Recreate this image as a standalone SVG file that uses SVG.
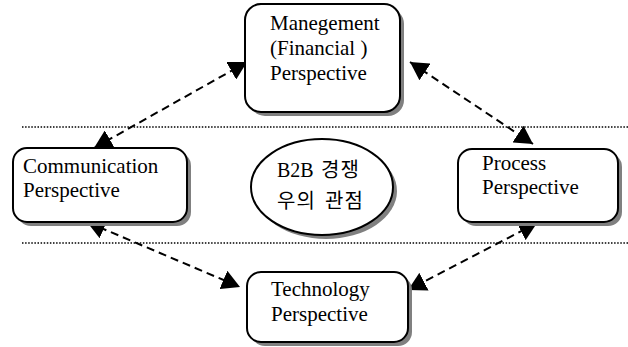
<svg xmlns="http://www.w3.org/2000/svg" width="628" height="347" viewBox="0 0 628 347">
  <style>
    .shadow { fill: #808080; stroke: none; }
    .box { fill: #ffffff; stroke: #000000; stroke-width: 2; }
    .label { font-family: "Liberation Serif", "Times New Roman", serif; font-size: 21px; fill: #000000; }
    .kor { font-family: "Liberation Serif", "Noto Sans CJK KR", serif; font-size: 20px; fill: #000000; }
    .divider { stroke: #000000; stroke-width: 1.5; stroke-dasharray: 1.5 1.6; fill: none; }
    .link { stroke: #000000; stroke-width: 2; stroke-dasharray: 8 5; fill: none;
            marker-start: url(#head); marker-end: url(#head); }
  </style>
  <defs>
    <marker id="head" markerUnits="userSpaceOnUse" markerWidth="18" markerHeight="20"
            viewBox="0 0 18 20" refX="18" refY="10" orient="auto-start-reverse">
      <path d="M0,0 L18,10 L0,20 Z" fill="#000000"/>
    </marker>
  </defs>

  <rect width="628" height="347" fill="#ffffff"/>

  <!-- dotted separators -->
  <g id="dividers">
    <line class="divider" x1="22" y1="127" x2="628" y2="127"/>
    <line class="divider" x1="22" y1="243" x2="628" y2="243"/>
  </g>

  <!-- double-headed dashed connectors -->
  <g id="connectors">
    <line class="link" x1="94" y1="148" x2="247" y2="62"/>
    <line class="link" x1="410" y1="62" x2="533" y2="144"/>
    <line class="link" x1="87" y1="222" x2="240" y2="287"/>
    <line class="link" x1="537" y1="223" x2="408" y2="290"/>
  </g>

  <g id="management">
    <rect class="shadow" x="249" y="8" width="155" height="108" rx="16"/>
    <rect class="box" x="245" y="4" width="155" height="108" rx="16"/>
    <text class="label" x="270" y="30">Manegement</text>
    <text class="label" x="270" y="55">(Financial )</text>
    <text class="label" x="270" y="80">Perspective</text>
  </g>

  <g id="communication">
    <rect class="shadow" x="17" y="152" width="174" height="74" rx="14"/>
    <rect class="box" x="13" y="148" width="174" height="74" rx="14"/>
    <text class="label" x="23" y="173">Communication</text>
    <text class="label" x="23" y="197">Perspective</text>
  </g>

  <g id="center">
    <ellipse class="shadow" cx="326" cy="191" rx="71" ry="48"/>
    <ellipse class="box" cx="322" cy="187" rx="71" ry="48"/>
    <text class="kor" x="277" y="177">B2B<tspan x="321" letter-spacing="1">경쟁</tspan></text>
    <text class="kor" x="277" y="208" letter-spacing="1">우의<tspan x="325">관점</tspan></text>
  </g>

  <g id="process">
    <rect class="shadow" x="462" y="153" width="160" height="73" rx="14"/>
    <rect class="box" x="458" y="149" width="160" height="73" rx="14"/>
    <text class="label" x="482" y="170">Process</text>
    <text class="label" x="482" y="194">Perspective</text>
  </g>

  <g id="technology">
    <rect class="shadow" x="251" y="276" width="161" height="70" rx="14"/>
    <rect class="box" x="247" y="272" width="161" height="70" rx="14"/>
    <text class="label" x="271" y="296">Technology</text>
    <text class="label" x="271" y="321">Perspective</text>
  </g>
</svg>
